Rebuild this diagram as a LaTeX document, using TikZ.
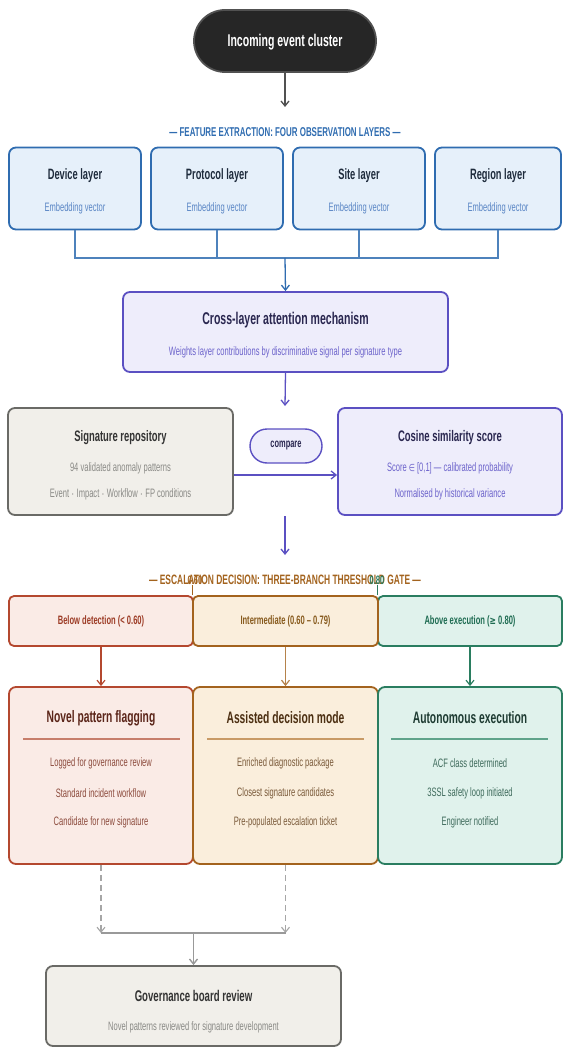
\documentclass[tikz,border=0pt]{standalone}
\usepackage{fontspec}
\setmainfont{Liberation Sans}[FakeStretch=0.62]
\usetikzlibrary{arrows.meta}

% palette
\definecolor{inkdark}{HTML}{262626}
\definecolor{blueB}{HTML}{2F6CB0}
\definecolor{blueF}{HTML}{E6F0FA}
\definecolor{blueT}{HTML}{1E2B3C}
\definecolor{blueS}{HTML}{5A86C5}
\definecolor{purpB}{HTML}{5B50C2}
\definecolor{purpF}{HTML}{EEEDFB}
\definecolor{purpT}{HTML}{2A2750}
\definecolor{purpS}{HTML}{6C63CB}
\definecolor{grayB}{HTML}{6A6A66}
\definecolor{grayF}{HTML}{F1EFEA}
\definecolor{grayT}{HTML}{333333}
\definecolor{grayS}{HTML}{8A8A86}
\definecolor{redB}{HTML}{B4482F}
\definecolor{redF}{HTML}{FAEBE6}
\definecolor{redT}{HTML}{9C3B25}
\definecolor{redH}{HTML}{5B2519}
\definecolor{redL}{HTML}{8C4B3D}
\definecolor{redR}{HTML}{C77E6B}
\definecolor{brnB}{HTML}{A3631E}
\definecolor{brnF}{HTML}{FAEEDC}
\definecolor{brnT}{HTML}{875A1D}
\definecolor{brnH}{HTML}{4C2F12}
\definecolor{brnL}{HTML}{7A5A3A}
\definecolor{brnR}{HTML}{C89A66}
\definecolor{grnB}{HTML}{2A7D60}
\definecolor{grnF}{HTML}{E0F2EC}
\definecolor{grnT}{HTML}{1E6C52}
\definecolor{grnH}{HTML}{1E3B32}
\definecolor{grnL}{HTML}{3F6B5C}
\definecolor{grnR}{HTML}{5FA38A}

\newcommand{\fs}[1]{\fontsize{#1}{#1}\selectfont}

\tikzset{
  box/.style={draw, rounded corners=7pt, line width=1.8pt, inner sep=0pt},
  txt/.style={inner sep=0pt, anchor=center},
  ttl/.style={txt, font=\fs{17}\bfseries},
  lyr/.style={txt, font=\fs{15}\bfseries, text=blueT},
  sub/.style={txt, font=\fs{12.2}},
  hdr/.style={txt, font=\fs{12.2}\bfseries},
  arr/.style={-{Straight Barb[length=5pt,width=8pt]}, line width=1.3pt},
  bus/.style={line width=1.3pt, draw=blueB!85},
}

\begin{document}
\begin{tikzpicture}[x=1pt, y=-1pt]
\useasboundingbox (0,0) rectangle (563,1048);

% entry point
\node[box, fill=inkdark, draw=inkdark!80, rounded corners=31pt,
      minimum width=182pt, minimum height=62pt] (start) at (285,41) {};
\node[ttl, text=white] (startT) at (285,42) {Incoming event cluster};
\coordinate (hdrTop) at (285,107);
\draw[arr, draw=inkdark!80] (start.south) -- (hdrTop);

% feature extraction layers
\node[hdr, text=blueB, font=\fs{12.8}\bfseries] (hdrFeat) at (285,132) {--- FEATURE EXTRACTION: FOUR OBSERVATION LAYERS ---};

\foreach \nm/\cx/\w/\t in {dev/75/132/Device layer, pro/217/132/Protocol layer,
                          sit/359/132/Site layer, reg/498/126/Region layer}{
  \node[box, fill=blueF, draw=blueB, minimum width=\w pt, minimum height=82pt] (\nm) at (\cx,188.5) {};
  \node[lyr] (\nm T) at (\cx,176) {\t};
  \node[sub, text=blueS] (\nm S) at (\cx,208) {Embedding vector};
}
\coordinate (busL) at (75,258);
\coordinate (busR) at (498,258);
\coordinate (busM) at (285,258);
\draw[bus] (dev.south) |- (busM) -- (busR) -- (reg.south);
\draw[bus] (pro.south) -- (pro.south |- busM);
\draw[bus] (sit.south) -- (sit.south |- busM);

% attention
\node[box, fill=purpF, draw=purpB, minimum width=325pt, minimum height=80pt] (att) at (285.5,332) {};
\node[ttl, text=purpT] (attT) at (285.5,320) {Cross-layer attention mechanism};
\node[sub, text=purpS] (attS) at (285.5,352) {Weights layer contributions by discriminative signal per signature type};
\draw[arr, draw=blueB] (busM) -- (att.north);

\coordinate (attEnd) at (285,406);
\draw[arr, draw=purpB] (att.south) -- (attEnd);

% signature repository and similarity
\node[box, fill=grayF, draw=grayB, minimum width=225pt, minimum height=107pt] (sig) at (120.5,461.5) {};
\node[ttl, text=grayT, font=\fs{15.2}\bfseries] (sigT) at (120.5,438) {Signature repository};
\node[sub, text=grayS] (sigA) at (120.5,468) {94 validated anomaly patterns};
\node[sub, text=grayS] (sigB) at (120.5,494) {Event $\cdot$ Impact $\cdot$ Workflow $\cdot$ FP conditions};

\node[box, fill=purpF, draw=purpB, minimum width=224pt, minimum height=107pt] (cos) at (450,461.5) {};
\node[ttl, text=purpT, font=\fs{15.3}\bfseries] (cosT) at (450,438) {Cosine similarity score};
\node[sub, text=purpS] (cosA) at (450,468) {Score {\fontspec{DejaVu Sans}[FakeStretch=0.7]\fs{10}∈} [0,1] --- calibrated probability};
\node[sub, text=purpS] (cosB) at (450,494) {Normalised by historical variance};

\draw[arr, draw=purpB] ([yshift=-13.5pt]sig.east) -- ([yshift=-13.5pt]cos.west);

\node[box, fill=purpF, draw=purpB, rounded corners=17pt, line width=1.4pt,
      minimum width=72pt, minimum height=34pt] (cmp) at (286,446) {};
\node[txt, font=\fs{12}\bfseries, text=purpT] (cmpT) at (286,446) {compare};

\coordinate (gateA) at (285,516);
\coordinate (gateB) at (285,555);
\draw[arr, draw=purpB] (gateA) -- (gateB);

% escalation gate
\node[hdr, text=brnB, font=\fs{13.6}\bfseries] (hdrEsc) at (285,580) {--- ESCALATION DECISION: THREE-BRANCH THRESHOLD GATE ---};
\node[hdr, text=brnB] (t60) at (195,580) {0.60};
\node[hdr, text=grnB] (t80) at (377,580) {0.80};

\node[box, rounded corners=5pt, fill=redF, draw=redB, minimum width=184pt, minimum height=50pt] (bl) at (101,621) {};
\node[box, rounded corners=5pt, fill=grnF, draw=grnB, minimum width=184pt, minimum height=50pt] (br) at (470,621) {};
\node[box, rounded corners=5pt, fill=brnF, draw=brnB, minimum width=185pt, minimum height=50pt] (bm) at (285.5,621) {};
\node[hdr, text=redT] (blT) at (101,621) {Below detection (< 0.60)};
\node[hdr, text=brnT] (bmT) at (285.5,621) {Intermediate (0.60 -- 0.79)};
\node[hdr, text=grnT] (brT) at (470,621) {Above execution ({\fontspec{DejaVu Sans}[FakeStretch=0.7]\fs{11}≥} 0.80)};
\draw[line width=1.2pt, draw=brnB] (bm.north west) -- ++(0,-10);
\draw[line width=1.2pt, draw=grnB] (br.north west) -- ++(0,-10);

% outcome boxes
\node[box, fill=redF, draw=redB, minimum width=184pt, minimum height=177pt] (ol) at (101,775.5) {};
\node[box, fill=brnF, draw=brnB, minimum width=185pt, minimum height=177pt] (om) at (285.5,775.5) {};
\node[box, fill=grnF, draw=grnB, minimum width=184pt, minimum height=177pt] (or) at (470,775.5) {};

\draw[arr, draw=redB, line width=1.2pt] (bl.south) -- (ol.north);
\draw[arr, draw=brnB!80, line width=1.2pt] (bm.south) -- (om.north);
\draw[arr, draw=grnB, line width=1.2pt] (br.south) -- (or.north);

\node[ttl, text=redH, font=\fs{16.6}\bfseries] (olT) at (101,718) {Novel pattern flagging};
\draw[draw=redR, line width=1.1pt] (23,739) -- (180,739);
\node[sub, text=redL] (olA) at (101,763) {Logged for governance review};
\node[sub, text=redL] (olB) at (101,793) {Standard incident workflow};
\node[sub, text=redL] (olC) at (101,822) {Candidate for new signature};

\node[ttl, text=brnH, font=\fs{16.6}\bfseries] (omT) at (285.5,718) {Assisted decision mode};
\draw[draw=brnR, line width=1.1pt] (207,739) -- (364,739);
\node[sub, text=brnL] (omA) at (285.5,763) {Enriched diagnostic package};
\node[sub, text=brnL] (omB) at (285.5,793) {Closest signature candidates};
\node[sub, text=brnL] (omC) at (285.5,822) {Pre-populated escalation ticket};

\node[ttl, text=grnH, font=\fs{16.6}\bfseries] (orT) at (470,718) {Autonomous execution};
\draw[draw=grnR, line width=1.1pt] (391,739) -- (548,739);
\node[sub, text=grnL] (orA) at (470,763) {ACF class determined};
\node[sub, text=grnL] (orB) at (470,793) {3SSL safety loop initiated};
\node[sub, text=grnL] (orC) at (470,822) {Engineer notified};

% governance feedback
\coordinate (mergeL) at (101,933);
\coordinate (mergeR) at (285.5,933);
\coordinate (mergeM) at (193.5,933);
\draw[arr, draw=gray!70, dashed, dash pattern=on 6pt off 4pt, line width=1.1pt] (ol.south) -- (mergeL);
\draw[arr, draw=gray!70, dashed, dash pattern=on 6pt off 4pt, line width=1.1pt] (om.south) -- (mergeR);
\draw[draw=gray!80, line width=1.4pt] (mergeL) -- (mergeR);

\node[box, fill=grayF, draw=grayB, minimum width=295pt, minimum height=80pt] (gov) at (193.5,1006) {};
\node[ttl, text=grayT, font=\fs{15.5}\bfseries] (govT) at (193.5,996) {Governance board review};
\node[sub, text=grayS] (govS) at (193.5,1027) {Novel patterns reviewed for signature development};
\draw[arr, draw=gray!80, line width=1.4pt] (mergeM) -- (gov.north);

\end{tikzpicture}
\end{document}
